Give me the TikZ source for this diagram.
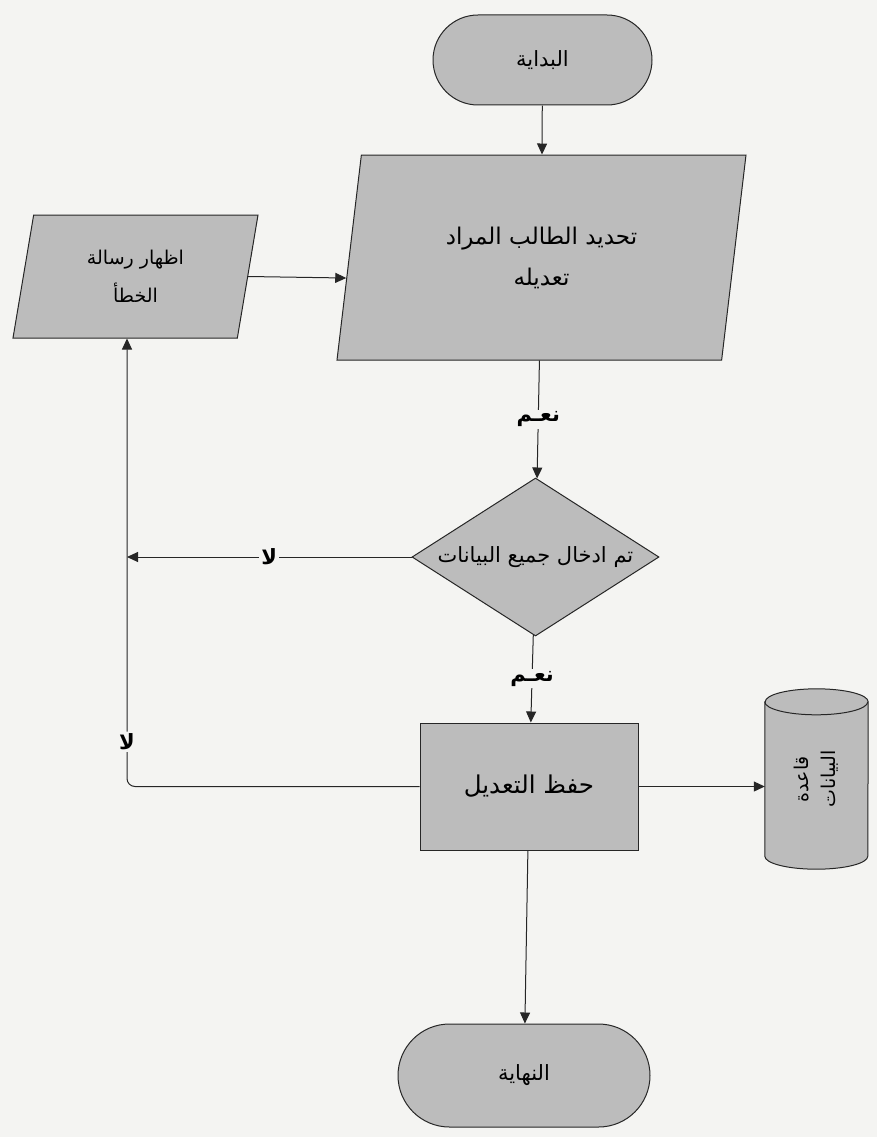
\documentclass[tikz,border=0pt]{standalone}
\usepackage{fontspec}
\usetikzlibrary{shapes.geometric,shapes.misc,arrows.meta}
\TeXXeTstate=1
\newfontfamily\arabicfont[Script=Arabic]{DejaVu Sans}
\newcommand{\artxt}[1]{\beginR #1\endR}
\definecolor{pagebg}{HTML}{F4F4F2}
\definecolor{boxfill}{HTML}{BCBCBC}
\definecolor{edge}{HTML}{262626}
\pgfdeclarelayer{background}
\pgfsetlayers{background,main}
\tikzset{
  shapebox/.style={draw=edge, fill=boxfill, line width=1pt, text=black,
    align=center, inner sep=0pt},
  terminal/.style={shapebox, rounded rectangle,
    font=\arabicfont\fontsize{21}{26}\selectfont},
  iobox/.style={shapebox, trapezium, trapezium left angle=68.5,
    trapezium right angle=111.5, trapezium stretches body},
  decision/.style={shapebox, diamond, aspect=1.56},
  process/.style={shapebox, rectangle},
  flow/.style={draw=edge, line width=1pt, -{Triangle[length=11pt,width=10pt]}},
  lbl/.style={fill=pagebg, inner sep=2pt,
    font=\arabicfont\bfseries\fontsize{21}{24}\selectfont},
  dblabel/.style={inner sep=0pt, minimum width=103pt, minimum height=180pt,
    font=\arabicfont\fontsize{19}{27}\selectfont},
}
\begin{document}
\begin{tikzpicture}[x=1pt, y=-1pt]
  \begin{pgfonlayer}{background}
    \fill[pagebg] (0,0) rectangle (877,1137);
  \end{pgfonlayer}
  \useasboundingbox (0,0) rectangle (877,1137);

  % flowchart nodes
  \node[terminal, minimum width=219pt, minimum height=90pt] (start) at (542.5,60)
    {\artxt{البداية}};
  \node[iobox, minimum width=409pt, minimum height=205pt,
        font=\arabicfont\fontsize{23}{41}\selectfont] (input) at (541.5,257.5)
    {\artxt{تحديد الطالب المراد}\\\artxt{تعديله}};
  \node[iobox, minimum width=245pt, minimum height=123pt,
        font=\arabicfont\fontsize{19}{38}\selectfont] (error) at (135.5,276.5)
    {\artxt{اظهار رسالة}\\\artxt{الخطأ}};
  \node[decision, minimum width=247pt, minimum height=158pt,
        font=\arabicfont\fontsize{21}{24}\selectfont] (dec) at (535.5,557)
    {\artxt{تم ادخال جميع البيانات}};
  \node[process, minimum width=218pt, minimum height=127pt,
        font=\arabicfont\fontsize{24.5}{28}\selectfont] (save) at (529,786.5)
    {\artxt{حفظ التعديل}};
  \node[terminal, minimum width=252pt, minimum height=103pt] (stop) at (524,1075.5)
    {\artxt{النهاية}};

  % database store: label node plus cylinder outline behind it
  \node[dblabel] (db) at (816.5,779)
    {\rotatebox{90}{\begin{tabular}{@{}c@{}}\artxt{قاعدة}\\\artxt{البيانات}\end{tabular}}};
  \begin{pgfonlayer}{background}
    \path[draw=edge, fill=boxfill, line width=1pt]
      ([yshift=-13pt]db.north west) -- ([yshift=13pt]db.south west)
      arc[start angle=180, end angle=360, x radius=51.5pt, y radius=13pt]
      -- ([yshift=-13pt]db.north east)
      arc[start angle=0, end angle=180, x radius=51.5pt, y radius=13pt]
      -- cycle;
    \draw[edge, line width=1pt] ([yshift=-13pt]db.north west)
      arc[start angle=180, end angle=360, x radius=51.5pt, y radius=13pt];
  \end{pgfonlayer}

  \coordinate (cnr) at (127,786.5);

  % connectors
  \draw[flow] (start) -- (input);
  \draw[flow] (error.east) -- (input.186.5);
  \draw[flow] (input) -- node[lbl] {\artxt{نعـم}} (dec);
  \draw[flow] (dec.west) -- node[lbl] {\artxt{لا}} (dec.west -| cnr);
  \draw[flow] (dec) -- node[lbl] {\artxt{نعـم}} (save);
  \draw[flow, rounded corners=8pt] (save.west) -- (cnr)
    -- node[lbl, pos=0.1] {\artxt{لا}} (cnr |- error.south);
  \draw[flow] (save.east) -- (save.east -| db.west);
  \draw[flow] (save) -- (stop);
\end{tikzpicture}
\end{document}
